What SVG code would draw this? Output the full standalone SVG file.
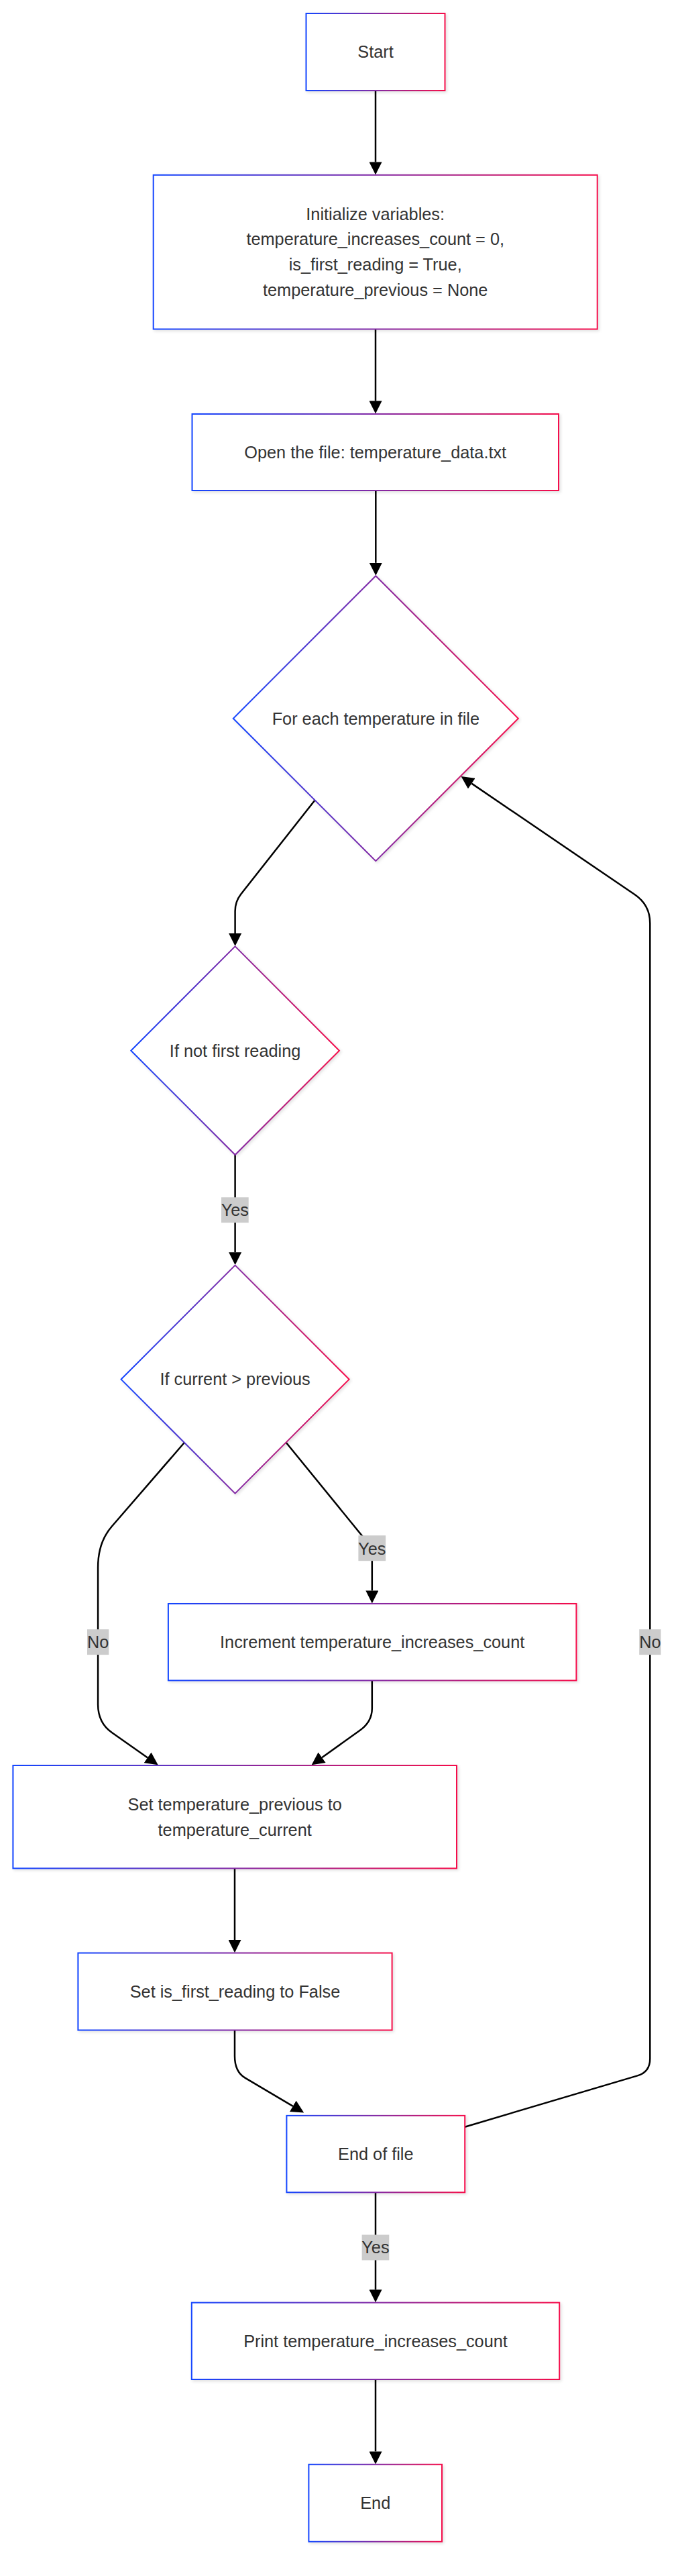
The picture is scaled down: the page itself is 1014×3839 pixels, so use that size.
<svg xmlns="http://www.w3.org/2000/svg" width="1014" height="3839" viewBox="0 0 1014 3839">
<defs>
<linearGradient id="grad" x1="0" y1="0" x2="1" y2="0">
<stop offset="0" stop-color="#1446ff"/>
<stop offset="0.5" stop-color="#832aa5"/>
<stop offset="1" stop-color="#f50f4b"/>
</linearGradient>
<filter id="shadow" x="-10%" y="-10%" width="120%" height="120%">
<feDropShadow dx="2" dy="2" stdDeviation="2" flood-color="#000" flood-opacity="0.12"/>
</filter>
<marker id="arrow" viewBox="0 0 10 10" refX="0" refY="5" markerUnits="userSpaceOnUse" markerWidth="19.4" markerHeight="19" orient="auto">
<path d="M0,0 L10,5 L0,10 z" fill="#000"/>
</marker>
</defs>
<style>
.node rect, .node polygon { fill: #fff; stroke: url(#grad); stroke-width: 2; filter: url(#shadow); }
.node text, .label text { font-family: "Liberation Sans", Arial, sans-serif; font-size: 25.3px; fill: #333; text-anchor: middle; }
.edge { fill: none; stroke: #000; stroke-width: 2.5; marker-end: url(#arrow); }
.edge-plain { fill: none; stroke: #000; stroke-width: 2.5; }
.label rect { fill: #cccccc; stroke: none; }
</style>
<rect width="1014" height="3839" fill="#fff"/>
<g id="connectors">
<path class="edge" d="M560,135 L560,241.4"/>
<path class="edge" d="M560,490.5 L560,597.6"/>
<path class="edge" d="M560.3,731 L560.3,838.8"/>
<path class="edge" d="M469.2,1192.9 L359.5,1332.3 Q350.6,1343.6 350.6,1358 L350.6,1391"/>
<path class="edge" d="M350.6,1721 L350.6,1866.3"/>
<path class="edge" d="M426.8,2150 L545,2295 Q554.8,2307.2 554.8,2322 L554.8,2370.6"/>
<path class="edge" d="M274.8,2150 L166.8,2274.8 Q146.1,2298.3 146.1,2336 L146.1,2540 Q146.1,2567.5 166.8,2582 L220.1,2619.4"/>
<path class="edge" d="M554.8,2504.4 L554.8,2546 Q554.8,2565.9 536.7,2578.8 L480.1,2619.2"/>
<path class="edge" d="M350,2784.4 L350,2891.1"/>
<path class="edge" d="M350,3025.5 L350,3064 Q350,3087.5 365.4,3096.6 L436.8,3138.8"/>
<path class="edge" d="M693.2,3169.7 L950.6,3093.4 Q969.3,3087.9 969.3,3068 L969.3,1376 Q969.3,1348.7 946.7,1333.3 L703.3,1167.6"/>
<path class="edge" d="M560,3267.3 L560,3412.2"/>
<path class="edge" d="M560,3546 L560,3653.4"/>
<g class="label" id="label-yes-1"><rect x="330" y="1784.3" width="40.7" height="37.9"/><text x="350.35" y="1812">Yes</text></g>
<g class="label" id="label-yes-2"><rect x="534.4" y="2288.3" width="40.7" height="37.9"/><text x="554.75" y="2316.6">Yes</text></g>
<g class="label" id="label-no-1"><rect x="130" y="2428.2" width="32.3" height="37.9"/><text x="146.15" y="2456">No</text></g>
<g class="label" id="label-no-2"><rect x="953.2" y="2428.2" width="32.3" height="37.9"/><text x="969.35" y="2456">No</text></g>
<g class="label" id="label-yes-3"><rect x="539.6" y="3330.5" width="40.7" height="37.9"/><text x="559.95" y="3358.3">Yes</text></g>
</g>
<g id="start" class="node"><rect x="456.5" y="20" width="207" height="115"/><text x="560" y="86.3">Start</text></g>
<g id="init" class="node"><rect x="228.7" y="260.8" width="662" height="229.7"/>
<text x="559.7" y="327.5">Initialize variables:</text>
<text x="559.7" y="365.4">temperature_increases_count = 0,</text>
<text x="559.7" y="403.4">is_first_reading = True,</text>
<text x="559.7" y="441.3">temperature_previous = None</text></g>
<g id="open" class="node"><rect x="286.5" y="617" width="546.5" height="114"/><text x="559.7" y="682.8">Open the file: temperature_data.txt</text></g>
<g id="foreach" class="node"><polygon points="560.3,858.2 772.8,1070.7 560.3,1283.2 347.8,1070.7"/><text x="560.3" y="1079.5">For each temperature in file</text></g>
<g id="notfirst" class="node"><polygon points="350.6,1410.4 505.9,1565.7 350.6,1721 195.3,1565.7"/><text x="350.6" y="1574.5">If not first reading</text></g>
<g id="greater" class="node"><polygon points="350.6,1885.6 520.6,2055.6 350.6,2225.6 180.6,2055.6"/><text x="350.6" y="2064.4">If current &gt; previous</text></g>
<g id="increment" class="node"><rect x="250.9" y="2390" width="608.5" height="114.4"/><text x="555.2" y="2456">Increment temperature_increases_count</text></g>
<g id="setprev" class="node"><rect x="19.4" y="2631" width="661.6" height="153.4"/>
<text x="350.2" y="2697.5">Set temperature_previous to</text>
<text x="350.2" y="2735.5">temperature_current</text></g>
<g id="setfirst" class="node"><rect x="116.4" y="2910.5" width="468.2" height="115"/><text x="350.5" y="2976.8">Set is_first_reading to False</text></g>
<g id="eof" class="node"><rect x="427.4" y="3152.9" width="265.8" height="114.4"/><text x="560.3" y="3218.9">End of file</text></g>
<g id="print" class="node"><rect x="285.8" y="3431.6" width="548.4" height="114.4"/><text x="560" y="3497.6">Print temperature_increases_count</text></g>
<g id="end" class="node"><rect x="460.4" y="3672.8" width="198.6" height="115"/><text x="559.7" y="3739.2">End</text></g>
</svg>
